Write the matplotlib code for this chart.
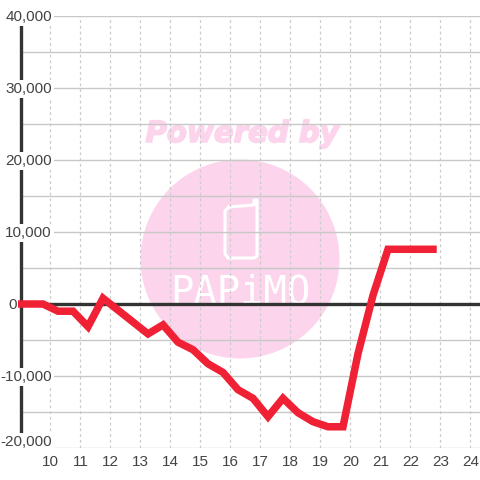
import matplotlib
matplotlib.use("Agg")
import matplotlib.pyplot as plt
import matplotlib.patheffects as pe
from matplotlib.lines import Line2D
from matplotlib.patches import Circle, Rectangle
from matplotlib.transforms import blended_transform_factory, offset_copy

hours = [9.0, 9.75, 10.25, 10.75, 11.25, 11.75, 12.25, 12.75, 13.25, 13.75, 14.25, 14.75,
         15.25, 15.75, 16.25, 16.75, 17.25, 17.75, 18.25, 18.75, 19.25, 19.75, 20.25, 20.75,
         21.25, 21.75, 22.25, 22.75]
values = [0, 0, -1000, -1000, -3150, 800, -850, -2500, -4150, -2900, -5300, -6350,
          -8300, -9500, -11900, -13100, -15650, -13100, -15100, -16350, -17050, -17050, -6900, 1200,
          7600, 7600, 7600, 7600]
x_ticks = list(range(10, 25))
y_major = [-20000, -10000, 0, 10000, 20000, 30000, 40000]
y_labels = ["-20,000", "-10,000", "0", "10,000", "20,000", "30,000", "40,000"]
y_minor = [-15000, -5000, 5000, 15000, 25000, 35000]

plt.rcParams["font.family"] = ["Liberation Sans", "DejaVu Sans"]
W = 480
fig = plt.figure(figsize=(4.8, 4.8), dpi=100, facecolor="white")
ax = fig.add_axes([20.5 / W, 32 / W, 459.5 / W, 432 / W])
ax.set_xlim(9, 24.317)
ax.set_ylim(-20000, 40000)
for s in ["top", "right", "bottom"]:
    ax.spines[s].set_visible(False)
ax.spines["left"].set_color("#333333")
ax.spines["left"].set_linewidth(2.4)
ax.spines["left"].set_zorder(3)

ax.set_xticks(x_ticks)
ax.set_yticks(y_major)
ax.set_yticks(y_minor, minor=True)
ax.set_yticklabels([])
ax.tick_params(axis="both", which="both", length=0)
ax.tick_params(axis="x", labelsize=11, labelcolor="#444444", pad=5)
ax.grid(axis="x", color="#cccccc", linewidth=0.9, linestyle=(0, (2.3, 2.3)), zorder=2)
ax.grid(axis="y", which="both", color="#c8c8c8", linewidth=1.0, linestyle="-", zorder=2)
ax.set_axisbelow(True)

px = lambda x, y: (x / W, 1 - y / W)
pink = "#fcd5ed"
fig.patches.append(Circle(px(240, 259), 99.5 / W, transform=fig.transFigure, facecolor=pink,
                          edgecolor="none", zorder=-5))
phone_x, phone_y = zip(*[px(*p) for p in [(229, 207), (254, 205), (254, 200), (257, 200), (257, 256),
                                          (254, 258), (228, 258), (225, 254), (225, 211), (229, 207)]])
fig.add_artist(Line2D(phone_x, phone_y, transform=fig.transFigure, color="white", linewidth=2.2,
                      solid_joinstyle="round", zorder=-4))
fig.text(*px(242, 134), "Powered by", color=pink, family="DejaVu Sans", weight="bold", style="italic",
         fontsize=21, ha="center", va="center", zorder=-4,
         path_effects=[pe.withStroke(linewidth=1.2, foreground=pink)])
fig.text(*px(240, 304), "PAPiMO", color="white", family="DejaVu Sans Mono", fontsize=28,
         ha="center", va="baseline", zorder=-4)
ax.patch.set_alpha(0)

ax.axhline(0, color="#333333", linewidth=2.4, zorder=4)
ax.plot(hours, values, color="#f02035", linewidth=5.4, solid_joinstyle="miter",
        solid_capstyle="projecting", zorder=5, clip_on=False)

# white mask behind the lowest label, reaching down over the start of the bottom grid line
ax.add_artist(Rectangle(px(0, 450), 54 / W, 16 / W, transform=fig.transFigure, facecolor="white",
                        edgecolor="none", zorder=5.5, clip_on=False))

lab_tr = blended_transform_factory(fig.transFigure, ax.transData)
base_tr = offset_copy(lab_tr, fig=fig, x=0, y=-1, units="dots")
up_tr = offset_copy(lab_tr, fig=fig, x=0, y=6, units="dots")
for v, lab in zip(y_major, y_labels):
    xp, ha = (8 / W, "left") if v == 0 else (52 / W, "right")
    tr = up_tr if v == y_major[0] else base_tr
    ax.text(xp, v, lab, transform=tr, ha=ha, va="center", fontsize=11, color="#444444", zorder=6,
            clip_on=False, bbox=dict(facecolor="white", edgecolor="none", pad=1.2))

fig.savefig("out.png", dpi=100, facecolor="white")
